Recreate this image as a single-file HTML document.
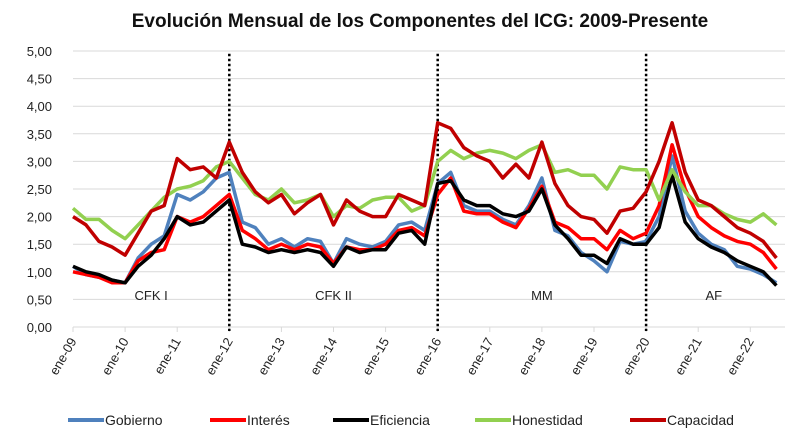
<!DOCTYPE html>
<html><head><meta charset="utf-8">
<style>
html,body{margin:0;padding:0;background:#fff;}
svg{display:block;font-family:"Liberation Sans",sans-serif;}
</style></head>
<body>
<svg id="chart" width="800" height="445" viewBox="0 0 800 445">
<text x="420" y="27" text-anchor="middle" font-size="19" font-weight="bold" fill="#111">Evolución Mensual de los Componentes del ICG: 2009-Presente</text>
<g id="grid"></g><g id="yticks"></g><g id="xticks"></g><g id="dividers"></g><g id="periods"></g><g id="lines"></g><g id="legend"></g>
</svg>
<script>
const startYear = 2009;
const yTicks = [0,0.5,1,1.5,2,2.5,3,3.5,4,4.5,5];
const xTickLabels = ["ene-09","ene-10","ene-11","ene-12","ene-13","ene-14","ene-15","ene-16","ene-17","ene-18","ene-19","ene-20","ene-21","ene-22"];
const dividerYears = [2012,2016,2020];
const periodNames = ["CFK I","CFK II","MM","AF"];
const periodMid = [2010.5,2014,2018,2021.3];
const seriesNames = ["Gobierno","Interés","Eficiencia","Honestidad","Capacidad"];
const seriesColors = ["#4f81bd","#ff0000","#000000","#92d050","#c00000"];
// quarterly values from 2009 Q1
const gobierno = [1.1,0.95,0.9,0.85, 0.8,1.25,1.5,1.65, 2.4,2.3,2.45,2.7, 2.8,1.9,1.8,1.5, 1.6,1.45,1.6,1.55, 1.15,1.6,1.5,1.45, 1.55,1.85,1.9,1.75, 2.6,2.8,2.2,2.1, 2.1,1.95,1.85,2.2, 2.7,1.75,1.65,1.35, 1.2,1.0,1.55,1.5, 1.55,2.0,3.1,2.1, 1.7,1.5,1.4,1.1, 1.05,0.95,0.8];
const interes = [1.0,0.95,0.9,0.8, 0.8,1.2,1.35,1.4, 2.0,1.9,2.0,2.2, 2.4,1.75,1.6,1.4, 1.5,1.4,1.5,1.45, 1.15,1.45,1.4,1.4, 1.5,1.75,1.8,1.65, 2.4,2.7,2.1,2.05, 2.05,1.9,1.8,2.15, 2.55,1.9,1.8,1.6, 1.6,1.4,1.75,1.6, 1.7,2.2,3.3,2.5, 2.0,1.8,1.65,1.55, 1.5,1.35,1.05];
const eficiencia = [1.1,1.0,0.95,0.85, 0.8,1.1,1.3,1.6, 2.0,1.85,1.9,2.1, 2.3,1.5,1.45,1.35, 1.4,1.35,1.4,1.35, 1.1,1.45,1.35,1.4, 1.4,1.7,1.75,1.5, 2.6,2.65,2.3,2.2, 2.2,2.05,2.0,2.1, 2.5,1.85,1.6,1.3, 1.3,1.15,1.6,1.5, 1.5,1.8,2.75,1.9, 1.6,1.45,1.35,1.2, 1.1,1.0,0.75];
const honestidad = [2.15,1.95,1.95,1.75, 1.6,1.85,2.1,2.35, 2.5,2.55,2.65,2.9, 3.0,2.7,2.4,2.3, 2.5,2.25,2.3,2.4, 2.0,2.2,2.15,2.3, 2.35,2.35,2.1,2.2, 3.0,3.2,3.05,3.15, 3.2,3.15,3.05,3.2, 3.3,2.8,2.85,2.75, 2.75,2.5,2.9,2.85, 2.85,2.3,2.85,2.45, 2.2,2.2,2.05,1.95, 1.9,2.05,1.85];
const capacidad = [2.0,1.85,1.55,1.45, 1.3,1.7,2.1,2.2, 3.05,2.85,2.9,2.7, 3.35,2.8,2.45,2.25, 2.4,2.05,2.25,2.4, 1.85,2.3,2.1,2.0, 2.0,2.4,2.3,2.2, 3.7,3.6,3.25,3.1, 3.0,2.7,2.95,2.7, 3.35,2.6,2.2,2.0, 1.95,1.7,2.1,2.15, 2.45,3.0,3.7,2.8, 2.3,2.2,2.0,1.8, 1.7,1.55,1.25];
const seriesData = [gobierno,interes,eficiencia,honestidad,capacidad];

const NS="http://www.w3.org/2000/svg";
const X0=73, PX_PER_YEAR=52.1, Y0=327, PX_PER_UNIT=55.2, XL=73, XR=785;
function xs(year){return X0+(year-startYear)*PX_PER_YEAR;}
function ys(v){return Y0-v*PX_PER_UNIT;}
function mk(tag,parent,attrs){const e=document.createElementNS(NS,tag);for(const k in attrs)e.setAttribute(k,attrs[k]);document.getElementById(parent).appendChild(e);return e;}

yTicks.forEach(v=>{
  const g=mk('line','grid',{x1:XL,x2:XR,y1:ys(v),y2:ys(v),stroke:'#d9d9d9','stroke-width':1});
  
  
  const t=mk('text','yticks',{x:52,y:ys(v)+5,'text-anchor':'end','font-size':13,fill:'#222'});
  t.textContent=v.toFixed(2).replace('.',',');
  
  
});
xTickLabels.forEach((lab,i)=>{
  const x=xs(startYear+i);
  const tk=mk('line','xticks',{x1:x,x2:x,y1:Y0,y2:Y0+5,stroke:'#d9d9d9'});
  
  
  const t=mk('text','xticks',{x:x+4,y:Y0+14,'text-anchor':'end','font-size':13,fill:'#222',transform:`rotate(-60 ${x+4} ${Y0+14})`});
  t.textContent=lab;
  
  
});
dividerYears.forEach(yr=>{
  const d=mk('line','dividers',{x1:xs(yr),x2:xs(yr),y1:ys(4.95),y2:Y0+4,stroke:'#000','stroke-width':2.5,'stroke-dasharray':'2.5 2.5'});
  
  
});
periodNames.forEach((n,i)=>{
  const t=mk('text','periods',{x:xs(periodMid[i]),y:300,'text-anchor':'middle','font-size':13,fill:'#222'});
  t.textContent=n;
  
  
});
seriesData.forEach((arr,si)=>{
  const pts=arr.map((v,i)=>xs(startYear+i/4).toFixed(1)+','+ys(v).toFixed(1)).join(' ');
  const p=mk('polyline','lines',{points:pts,fill:'none',stroke:seriesColors[si],'stroke-width':3.5,'stroke-linejoin':'round'});
  
  
});
const legX=[68,210,333,475,630];
seriesNames.forEach((n,i)=>{
  const l=mk('line','legend',{x1:legX[i],x2:legX[i]+36,y1:420,y2:420,stroke:seriesColors[i],'stroke-width':4});
  
  
  const t=mk('text','legend',{x:legX[i]+37,y:425,'font-size':14,fill:'#222'});
  t.textContent=n;
  
  
});
</script>
</body></html>
